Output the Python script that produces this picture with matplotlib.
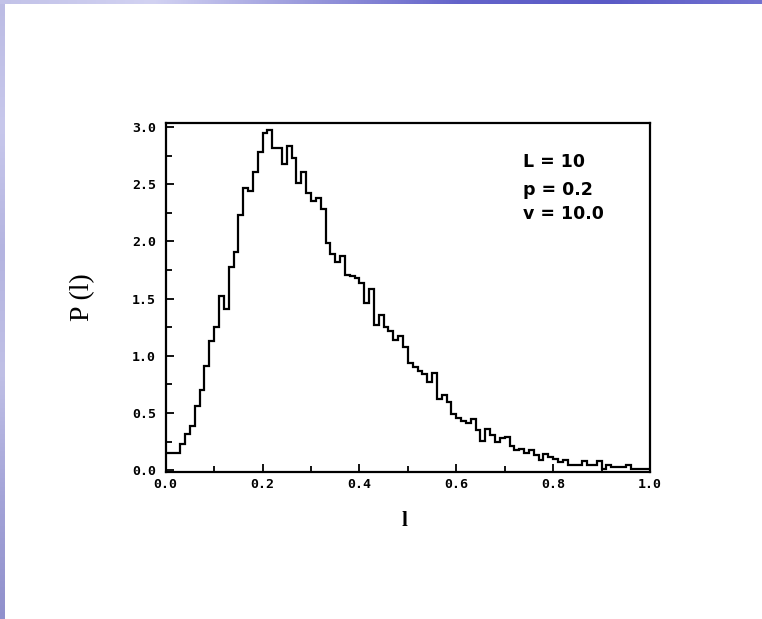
import numpy as np
import matplotlib
matplotlib.use('Agg')
import matplotlib.pyplot as plt
from matplotlib.colors import LinearSegmentedColormap

# ============================================================
# Données : histogramme normalisé P(l), 100 classes de largeur 0.01
# ============================================================

bin_edges = np.linspace(0.0, 1.0, 101)

p_values = [
    0.15, 0.15, 0.15, 0.23, 0.32, 0.39, 0.56, 0.70, 0.91, 1.13,
    1.25, 1.52, 1.41, 1.78, 1.91, 2.23, 2.47, 2.44, 2.61, 2.78,
    2.95, 2.97, 2.82, 2.82, 2.68, 2.83, 2.73, 2.51, 2.61, 2.42,
    2.35, 2.38, 2.28, 1.99, 1.89, 1.82, 1.87, 1.71, 1.70, 1.68,
    1.64, 1.46, 1.58, 1.27, 1.36, 1.25, 1.22, 1.14, 1.17, 1.08,
    0.94, 0.90, 0.87, 0.84, 0.77, 0.85, 0.62, 0.66, 0.60, 0.49,
    0.46, 0.43, 0.41, 0.45, 0.35, 0.26, 0.36, 0.31, 0.25, 0.28,
    0.29, 0.21, 0.18, 0.19, 0.15, 0.175, 0.13, 0.09, 0.14, 0.12,
    0.10, 0.07, 0.09, 0.05, 0.05, 0.05, 0.08, 0.05, 0.05, 0.08,
    0.01, 0.05, 0.025, 0.025, 0.025, 0.05, 0.01, 0.01, 0.01, 0.01,
]

x_ticks = [0.0, 0.2, 0.4, 0.6, 0.8, 1.0]
y_ticks = [0.0, 0.5, 1.0, 1.5, 2.0, 2.5, 3.0]

params_text = ["L = 10", "p = 0.2", "v = 10.0"]
params_y = [2.69, 2.45, 2.24]


# ============================================================
# Figure
# ============================================================

fig = plt.figure(figsize=(7.62, 6.19), dpi=100)
fig.patch.set_facecolor('white')

# bandeaux bleus du fond de diapositive (haut et gauche)
top = fig.add_axes([0, 1 - 4 / 619, 1, 4 / 619])
top_cmap = LinearSegmentedColormap.from_list(
    'top', ['#c2c2e8', '#d2d2f2', '#9a9adc', '#6464ca', '#5a5ac6', '#7272d0'])
top.imshow(np.linspace(0, 1, 256)[None, :], cmap=top_cmap, aspect='auto')
top.axis('off')

left = fig.add_axes([0, 0, 5 / 762, 1 - 4 / 619])
left_cmap = LinearSegmentedColormap.from_list(
    'left', ['#bcbce4', '#c8c8ec', '#b4b4e0', '#c0c0e6', '#a4a4d8', '#9090cc'])
left.imshow(np.linspace(0, 1, 256)[:, None], cmap=left_cmap, aspect='auto')
left.axis('off')

ax = fig.add_axes([165.7 / 762, 147 / 619, 484.3 / 762, 349 / 619])

ax.stairs(p_values, bin_edges, baseline=None, color='black', linewidth=1.6)

ax.set_xlim(0.0, 1.0)
ax.set_ylim(-0.015, 3.035)

tick_font = {'family': 'DejaVu Sans Mono', 'weight': 'bold', 'size': 9.5}
ax.set_xticks(x_ticks)
ax.set_xticklabels([f"{t:.1f}" for t in x_ticks], fontdict=tick_font)
ax.set_yticks(y_ticks)
ax.set_yticklabels([f"{t:.1f}" for t in y_ticks], fontdict=tick_font)
ax.set_xticks(np.arange(0.1, 1.0, 0.2), minor=True)
ax.set_yticks(np.arange(0.25, 3.0, 0.5), minor=True)

ax.tick_params(which='both', direction='in', top=False, right=False, width=1.3)
ax.tick_params(which='major', length=6)
ax.tick_params(which='minor', length=4)
ax.tick_params(axis='y', pad=7)
ax.tick_params(axis='x', pad=4)

for spine in ax.spines.values():
    spine.set_linewidth(1.6)

# paramètres de la simulation
for txt, y in zip(params_text, params_y):
    ax.text(0.738, y, txt, ha='left', va='center',
            fontsize=12.5, fontweight='bold', family='DejaVu Sans')

ax.set_xlabel("l", fontsize=15, fontweight='bold', family='Liberation Serif')
ax.xaxis.set_label_coords(0.494, -0.112)

fig.text(83 / 762, 1 - 297 / 619, "P (l)", rotation=90, ha='center', va='center',
         fontsize=20, family='Liberation Serif')

fig.savefig('out.png', dpi=100)
